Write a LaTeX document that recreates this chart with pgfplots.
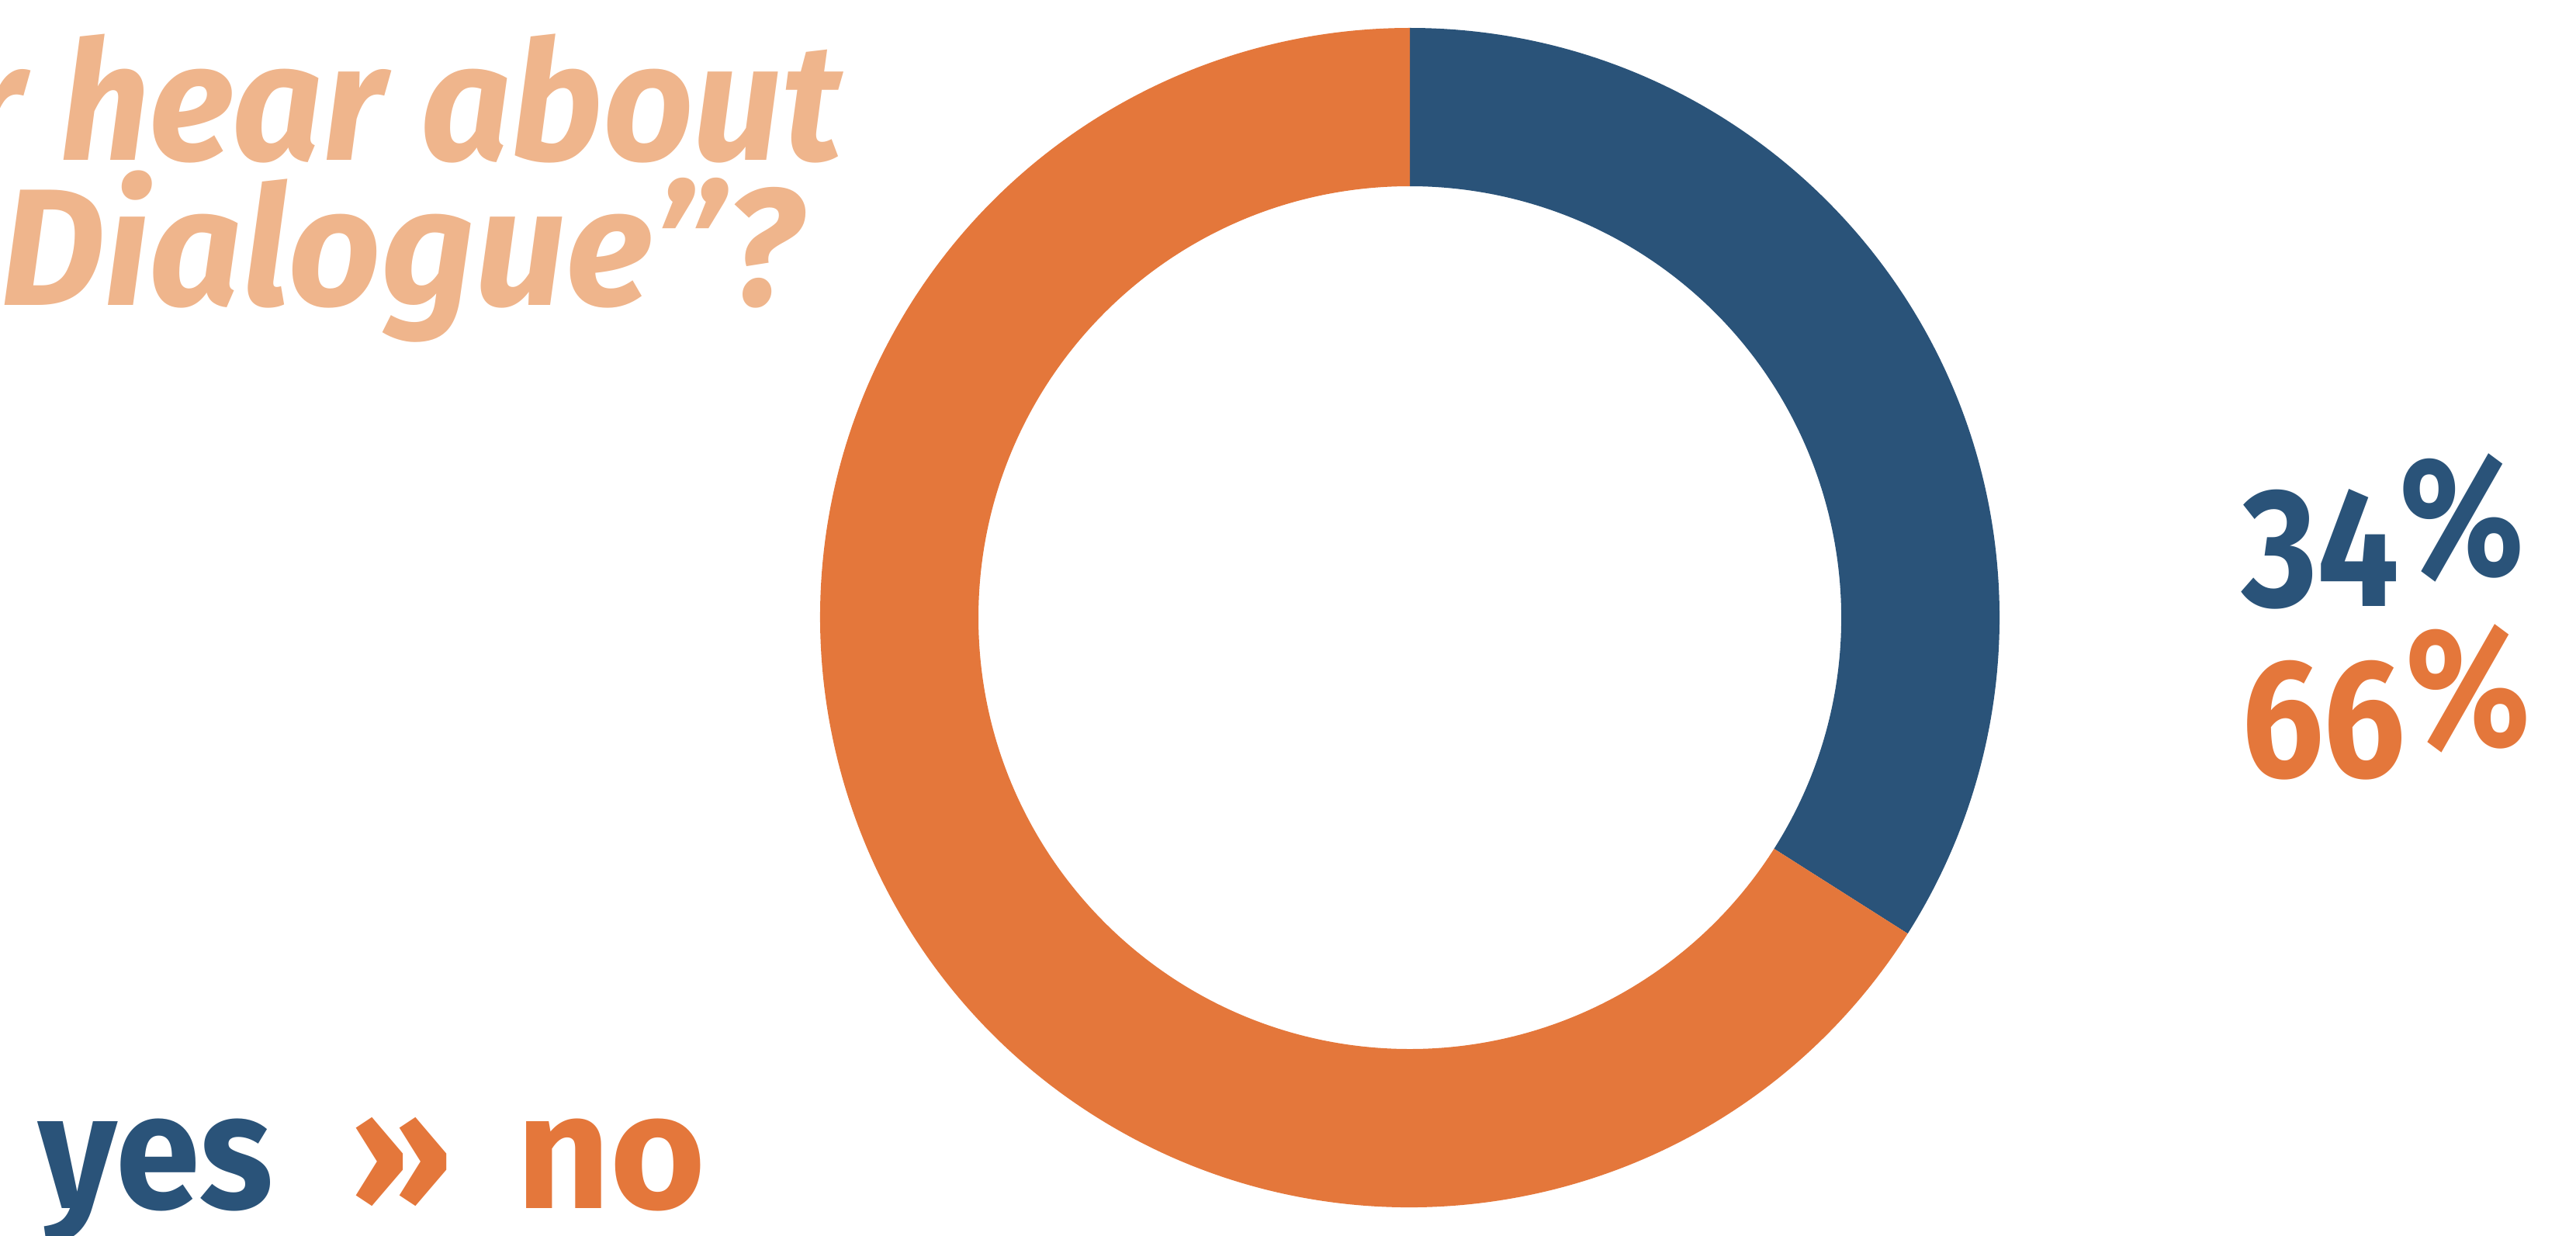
\documentclass[border=0pt]{standalone}
\usepackage{fontspec}
\setmainfont{Fira Sans}
\usepackage{pgfplots}
\usepackage{pgfplotstable}
\pgfplotsset{compat=1.18}
\definecolor{yescol}{HTML}{2A5379}
\definecolor{nocol}{HTML}{E4773B}
\definecolor{titlecol}{HTML}{EFB58C}
\pgfplotstableread{
label value
yes 34
no 66
}\donutdata
\pgfplotstablegetelem{0}{value}\of\donutdata
\pgfmathsetmacro\vyes{\pgfplotsretval}
\pgfmathsetmacro\aend{90-3.6*\vyes}
\begin{document}%
\begin{tikzpicture}
\begin{scope}
\clip (0,0) rectangle (16.6,7.96);
\begin{axis}[at={(0,0)}, anchor=south west, width=16.6cm, height=7.96cm,
  scale only axis, xmin=0, xmax=3320, ymin=0, ymax=1592, hide axis, clip=false]
\fill[yescol] (axis cs:1817,796) ++(90:3.8cm) arc[start angle=90,end angle=\aend,radius=3.8cm]
  -- ++({\aend+180}:1.02cm) arc[start angle=\aend,end angle=90,radius=2.78cm] -- cycle;
\fill[nocol] (axis cs:1817,796) ++(\aend:3.8cm) arc[start angle=\aend,end angle=-270,radius=3.8cm]
  -- ++(-90:1.02cm) arc[start angle=-270,end angle=\aend,radius=2.78cm] -- cycle;
\end{axis}
\begin{scope}[every node/.style={inner sep=0pt, outer sep=0pt}]
\node[anchor=base east, text=titlecol] at (5.425,6.93) {\fontsize{30.5pt}{36pt}\selectfont\bfseries\itshape\scalebox{0.95}[1]{Did you ever hear about}};
\node[anchor=base east, text=titlecol] at (5.165,5.995) {\fontsize{30.5pt}{36pt}\selectfont\bfseries\itshape\scalebox{0.975}[1]{“\kern0.15em Dialogue”?}};
\node[anchor=base west, text=yescol] at (14.445,4.055) {\fontsize{31pt}{36pt}\selectfont\bfseries\scalebox{0.86}[1]{34\raisebox{0.18em}{\%}}};
\node[anchor=base west, text=nocol] at (14.445,2.955) {\fontsize{31pt}{36pt}\selectfont\bfseries\scalebox{0.86}[1]{66\raisebox{0.18em}{\%}}};
\node[anchor=base west, text=yescol] at (0.245,0.175) {\fontsize{30pt}{36pt}\selectfont\bfseries\scalebox{0.93}[1]{yes}};
\node[anchor=base west, text=nocol] at (2.255,0.175) {\fontsize{30pt}{36pt}\selectfont\bfseries »};
\node[anchor=base west, text=nocol] at (3.325,0.175) {\fontsize{30pt}{36pt}\selectfont\bfseries\scalebox{1.0}[1]{no}};
\end{scope}
\end{scope}
\pgfresetboundingbox
\path[use as bounding box] (0,0) rectangle (16.6,7.96);
\end{tikzpicture}%
\end{document}
